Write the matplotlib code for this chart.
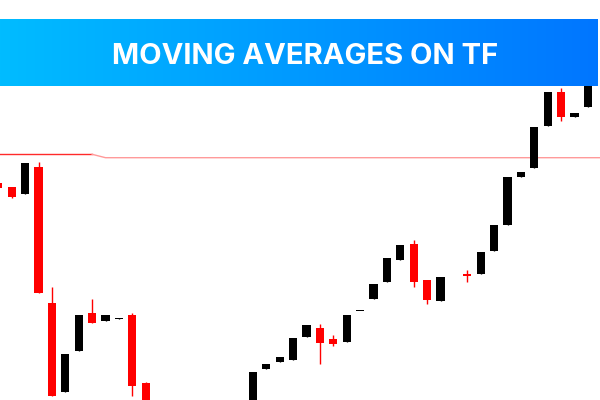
import numpy as np
import matplotlib.pyplot as plt
from matplotlib.colors import LinearSegmentedColormap

# candle prices (nan = not visible)
nan = np.nan
opens = [217.3, 212.7, 205.7, 233.3, 96.7, 7.7, 49.0, 87.3, 79.3, 80.7, 85.0, 16.7,
         nan, nan, nan, nan, nan, nan, nan,
         -10.0, 30.7, 38.0, 39.7, 63.3, 72.3, 60.7, 58.3, 88.6, 101.0, 117.7, 140.0,
         156.0, 120.0, 99.3, nan, 126.0, 126.0, 149.3, 174.7, 222.7, 232.3, 274.3,
         308.0, 283.0, 293.0]
closes = [212.0, 203.3, 236.7, 106.7, 4.3, 45.7, 85.0, 77.3, 85.0, 82.3, 14.3, -10.0,
          nan, nan, nan, nan, nan, nan, nan,
          27.7, 36.3, 43.0, 61.7, 74.7, 57.3, 55.7, 84.7, 89.4, 116.0, 141.7, 155.0,
          118.3, 100.0, 123.3, nan, 124.0, 147.7, 175.3, 223.0, 228.0, 272.7, 308.0,
          283.3, 287.0, 320.0]
highs = [217.3, 212.7, 236.7, 237.7, 113.0, 45.7, 85.0, 101.0, 85.0, 82.3, 87.0, 18.3,
         nan, nan, nan, nan, nan, nan, nan,
         27.7, 36.3, 43.0, 61.7, 74.7, 76.3, 64.7, 84.7, 89.4, 116.0, 141.7, 155.0,
         160.0, 120.0, 123.3, nan, 130.0, 147.7, 175.3, 223.0, 228.0, 272.7, 308.0,
         312.0, 287.0, 320.0]
lows = [212.0, 202.3, 205.7, 106.7, 4.3, 7.7, 49.0, 77.3, 79.3, 80.7, 4.3, -10.0,
        nan, nan, nan, nan, nan, nan, nan,
        -10.0, 30.7, 38.0, 39.7, 63.3, 36.3, 54.3, 58.3, 88.6, 101.0, 117.7, 140.0,
        113.3, 96.0, 99.3, nan, 118.3, 126.0, 149.3, 174.7, 222.7, 232.3, 274.3,
        279.3, 283.0, 293.0]

# moving average line (left part drawn darker, rest lighter)
ma_left = [245.7, 245.7, 245.7, 245.7, 245.7, 245.7, 245.7, 245.7]
ma_right = [242.3] * 40

title = 'MOVING AVERAGES ON TF'

fig = plt.figure(figsize=(6, 4), dpi=100)
ax = fig.add_axes([0, 0, 1, 1])

idx = np.arange(len(opens))
o = np.array(opens)
c = np.array(closes)
h = np.array(highs)
l = np.array(lows)
up = c >= o
col = np.where(up, 'black', '#ff0000')

ok = ~np.isnan(o)
ax.vlines(idx[ok], l[ok], h[ok], colors=col[ok], linewidth=1, zorder=2)
bottoms = np.minimum(o, c)
heights = np.maximum(np.abs(c - o), 1.2)
ax.bar(idx[ok], heights[ok], bottom=bottoms[ok], width=0.62, color=col[ok],
       linewidth=0, zorder=3)

n_left = len(ma_left)
ax.plot(np.arange(n_left), ma_left, color='#ff2a2a', linewidth=1, zorder=1)
ax.plot(np.arange(n_left - 1, n_left + len(ma_right) - 1),
        [ma_left[-1]] + ma_right[1:], color='#ff9a9a', linewidth=1, zorder=1)

ax.set_xlim(0.127, 44.9)
ax.set_ylim(0, 400)
ax.axis('off')

# banner with gradient
bax = fig.add_axes([0, 1 - 86 / 400, 598 / 600, 67 / 400])
cmap = LinearSegmentedColormap.from_list('banner', ['#00bcff', '#0076ff'])
bax.imshow(np.linspace(0, 1, 256).reshape(1, -1), cmap=cmap, aspect='auto',
           extent=[0, 1, 0, 1])
bax.set_xlim(0, 1)
bax.set_ylim(0, 1)
bax.axis('off')
bax.text(0.51, 0.44, title, color='white', fontsize=21, fontweight='bold',
         fontfamily='Inter', ha='center', va='center')

fig.savefig('out.png', dpi=100)
